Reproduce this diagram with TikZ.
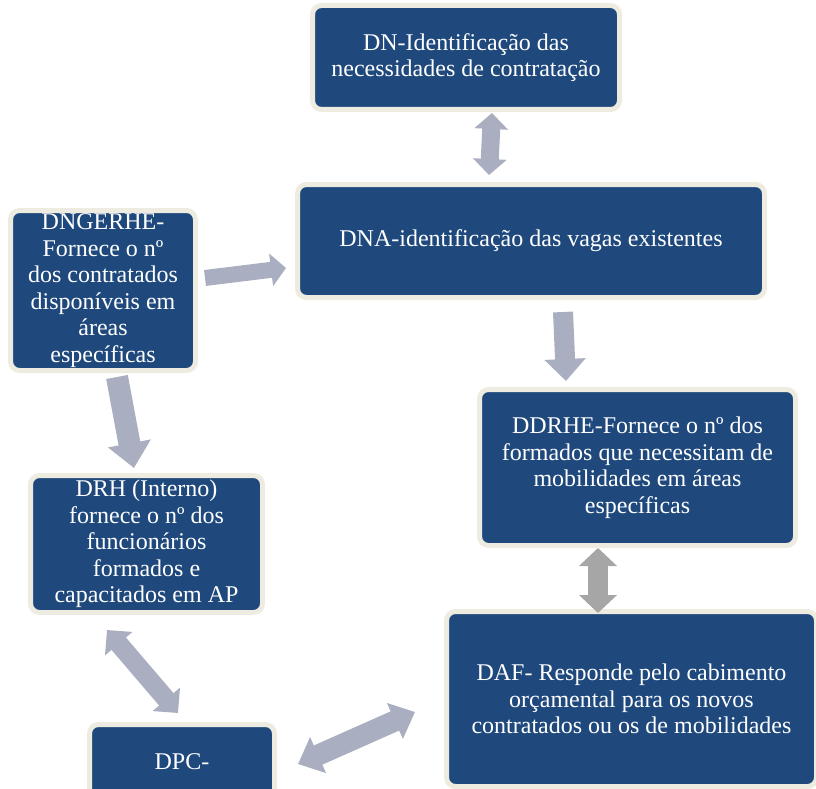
\documentclass[tikz,border=0pt]{standalone}
\usepackage{fontspec}
\setmainfont{Liberation Serif}
\usetikzlibrary{arrows.meta}
\definecolor{boxblue}{HTML}{1F497D}
\definecolor{cream}{HTML}{EEECE1}
\definecolor{arrblue}{HTML}{A9AFC0}
\definecolor{arrgray}{HTML}{A6A6A6}
\tikzset{
  box/.style={draw=cream, line width=5pt, fill=boxblue, rounded corners=9pt,
    text=white, align=center, inner sep=2pt,
    font=\fontsize{24}{26.5}\selectfont},
  blockarrow/.style={draw=arrblue, line width=#1},
}
\begin{document}
\begin{tikzpicture}[x=1pt,y=-1pt]
\useasboundingbox (0,0) rectangle (816,789);
\clip (0,0) rectangle (816,789);
\node[box, minimum width=307pt, minimum height=104pt] (dn) at (466,57.5)
  {DN-Identificação das\\necessidades de contratação};
\node[box, minimum width=467pt, minimum height=113pt] (dna) at (531,241)
  {DNA-identificação das vagas existentes};
\node[box, minimum width=185pt, minimum height=160pt] (dng) at (103,290.5)
  {DNGERHE-\\Fornece o nº\\dos contratados\\disponíveis em\\áreas\\específicas};
\node[box, minimum width=316pt, minimum height=156pt] (ddrhe) at (637.5,467.5)
  {DDRHE-Fornece o nº dos\\formados que necessitam de\\mobilidades em áreas\\específicas};
\node[box, minimum width=370pt, minimum height=175pt] (daf) at (631.5,699)
  {DAF- Responde pelo cabimento\\orçamental para os novos\\contratados ou os de mobilidades};
\node[box, minimum width=232pt, minimum height=137pt] (drh) at (146.5,544)
  {DRH (Interno)\\fornece o nº dos\\funcionários\\formados e\\capacitados em AP};
\node[box, minimum width=185pt, minimum height=75pt] (dpc) at (182,762)
  {DPC-};
% arrow end points
\coordinate (a1s) at (492,113);  \coordinate (a1e) at (489,175);
\coordinate (a2s) at (205,278);  \coordinate (a2e) at (286,268);
\coordinate (a3s) at (563,312);  \coordinate (a3e) at (566,381);
\coordinate (a4s) at (117,377);  \coordinate (a4e) at (134,468);
\coordinate (a5s) at (107,630);  \coordinate (a5e) at (178,713);
\coordinate (a6s) at (598,548);  \coordinate (a6e) at (598,613);
\coordinate (a7s) at (298,764);  \coordinate (a7e) at (415,712);
\draw[blockarrow=18pt, {Triangle[length=16pt,width=33pt]}-{Triangle[length=16pt,width=33pt]}] (a1s) -- (a1e);
\draw[blockarrow=16pt, -{Triangle[length=15pt,width=32pt]}] (a2s) -- (a2e);
\draw[blockarrow=20pt, -{Triangle[length=22pt,width=40pt]}] (a3s) -- (a3e);
\draw[blockarrow=22pt, -{Triangle[length=25pt,width=42pt]}] (a4s) -- (a4e);
\draw[blockarrow=19pt, {Triangle[length=18pt,width=35pt]}-{Triangle[length=18pt,width=35pt]}] (a5s) -- (a5e);
\draw[blockarrow=20pt, draw=arrgray, {Triangle[length=18pt,width=37pt]}-{Triangle[length=18pt,width=37pt]}] (a6s) -- (a6e);
\draw[blockarrow=21pt, {Triangle[length=22pt,width=38pt]}-{Triangle[length=22pt,width=38pt]}] (a7s) -- (a7e);
\end{tikzpicture}
\end{document}
